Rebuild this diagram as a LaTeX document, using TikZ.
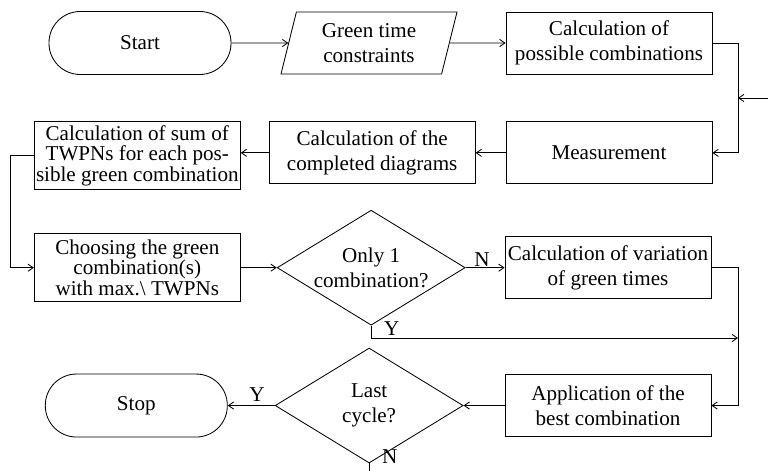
\documentclass[tikz,border=0pt]{standalone}
\usepackage{fontspec}
\setmainfont{Liberation Serif}
\usepackage{tikz}
\usetikzlibrary{arrows.meta, positioning, shapes.geometric, calc}

\begin{document}
\begin{tikzpicture}[
    term/.style={
        rectangle, rounded corners=0.78cm, draw, line width=0.6pt,
        minimum width=4.55cm, minimum height=1.575cm,
        font=\fontsize{15}{18}\selectfont
    },
    io/.style={
        trapezium, trapezium left angle=70, trapezium right angle=110,
        trapezium stretches body, draw, line width=0.6pt,
        minimum width=4.4cm, minimum height=1.55cm, inner sep=1pt,
        align=center, font=\fontsize{15}{18}\selectfont
    },
    proc/.style={
        rectangle, draw, line width=0.6pt, inner sep=1pt,
        minimum width=5.15cm, minimum height=1.55cm,
        align=center, font=\fontsize{15}{18}\selectfont
    },
    tall/.style={
        proc, minimum height=1.7cm, font=\fontsize{15}{14.5}\selectfont
    },
    dec/.style={
        diamond, draw, line width=0.6pt, inner sep=0pt, aspect=1.63,
        minimum width=4.7cm, minimum height=2.875cm,
        align=center, font=\fontsize{15}{18}\selectfont
    },
    lbl/.style={font=\fontsize{15}{18}\selectfont, inner sep=1pt},
    arr/.style={-{Straight Barb[length=1.3mm, width=1.8mm]}, line width=0.6pt}
]
\useasboundingbox (0,0) rectangle (19.2,-11.75);

% Top row
\node[term] (start) at (3.5,-1.075) {Start};
\node[io] (input) at (9.225,-1.075) {Green time\\constraints};
\node[proc] (poss) at (15.225,-1.075) {Calculation of\\possible combinations};

% Second row
\node[proc, below=1.175cm of poss] (meas) {Measurement};
\node[proc, left=0.75cm of meas] (compl) {Calculation of the\\completed diagrams};
\node[tall, left=0.7cm of compl, yshift=-0.075cm] (sum)
    {Calculation of sum of\\TWPNs for each pos-\\sible green combination};

% Third row
\node[tall, below=1.075cm of sum] (choose)
    {Choosing the green\\combination(s)\\with max.\textbackslash{} TWPNs};
\node[dec, right=0.9cm of choose] (only) {Only 1\\combination?};
\node[proc, right=0.975cm of only] (var) {Calculation of variation\\of green times};

% Bottom row
\node[proc, below=1.875cm of var] (appl) {Application of the\\best combination};
\node[dec, left=1.025cm of appl] (last) {Last\\cycle?};
\node[term, left=1.175cm of last] (stop) {Stop};

% Branch labels
\node[lbl, above right=0pt and 5pt of only.east] (noA) {N};
\node[lbl, below right=-4pt and 8pt of only.south] (yesA) {Y};
\node[lbl, above left=2pt and 6pt of last.west] (yesB) {Y};
\node[lbl, right=8pt of last.south, yshift=5pt] (noB) {N};

% Junction points on the right
\coordinate (join) at (18.45,-2.45);
\coordinate (feed) at (19.2,-2.45);
\coordinate (merge) at (18.45,-8.45);
\coordinate (exit) at ($(last.south)+(0,-0.4)$);

% Flow
\draw[arr] (start) -- (input);
\draw[arr] (input) -- (poss);
\draw[arr] (poss.east) -| (join) |- (meas.east);
\draw[arr] (feed) -- (join);
\draw[arr] (meas) -- (compl);
\draw[arr] (compl.west) -- (compl.west -| sum.east);
\draw[arr] (sum.west) -- ++(-0.575,0) |- (choose.west);
\draw[arr] (choose) -- (only);
\draw[arr] (only) -- (var);
\draw[arr] (only.south) |- (merge);
\draw[arr] (var.east) -| (merge) |- (appl.east);
\draw[arr] (appl) -- (last);
\draw[arr] (last) -- (stop);
\draw[line width=0.6pt] (last.south) -- (exit);

\end{tikzpicture}
\end{document}
